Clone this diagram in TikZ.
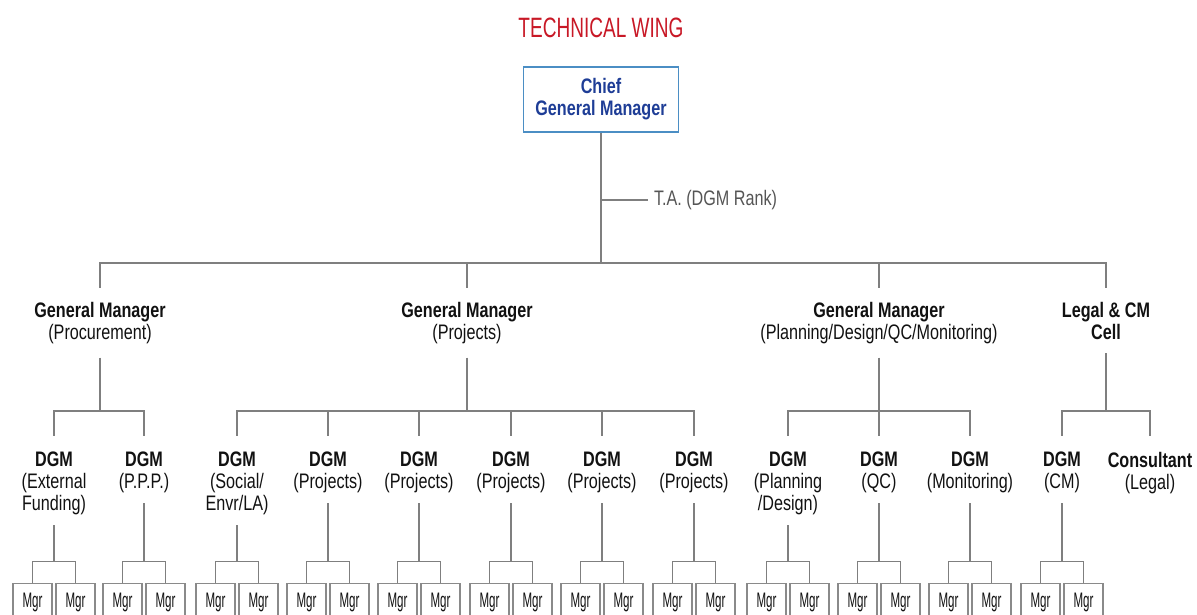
\documentclass[tikz,border=0pt]{standalone}
\usepackage{fontspec}
\setmainfont{Liberation Sans}[FakeStretch=0.77]
\newfontfamily\titlefont[FakeStretch=0.68]{Liberation Sans}
\newfontfamily\mgrfont[FakeStretch=0.55]{Liberation Sans}
\definecolor{linegray}{HTML}{7F7F7F}
\definecolor{boxgray}{HTML}{8A8A8A}
\definecolor{titlered}{HTML}{C81826}
\definecolor{cgmblue}{HTML}{1E3D96}
\definecolor{cgmborder}{HTML}{4B8EC4}
\definecolor{tagray}{HTML}{555555}
\definecolor{labelblack}{HTML}{111111}
\begin{document}
\begin{tikzpicture}[x=1pt,y=-1pt,
  conn/.style={draw=linegray, line width=1.5pt},
  lbl/.style={align=center, inner sep=0pt, outer ysep=14pt, anchor=north,
    text=labelblack, font=\fontsize{21}{22}\selectfont},
  dlbl/.style={align=center, inner sep=0pt, anchor=north,
    text=labelblack, font=\fontsize{21}{22}\selectfont},
  mgrbox/.style={draw=boxgray, line width=1.3pt, anchor=north, minimum width=39pt,
    minimum height=38pt, inner sep=0pt, text=labelblack, font=\mgrfont\fontsize{21}{22}\selectfont},
  cgmbox/.style={draw=cgmborder, line width=1.6pt, minimum width=155pt, minimum height=65pt,
    align=center, inner sep=0pt, text=cgmblue, font=\bfseries\fontsize{21}{22}\selectfont},
  titlestyle/.style={font=\titlefont\fontsize{28}{30}\selectfont, inner sep=0pt}]
\useasboundingbox (0,0) rectangle (1197,614);
\clip (0,0) rectangle (1197,614);

% title
\node[titlestyle, text=titlered] (title) at (601,28) {TECHNICAL WING};

% chief
\node[cgmbox] (cgm) at (601,99.5) {Chief\\General Manager};
\node[anchor=west, inner sep=0pt, outer xsep=6pt, text=tagray,
  font=\fontsize{21}{22}\selectfont] (ta) at (648,200) {T.A. (DGM Rank)};
\coordinate (j0) at (601,263);
\draw[conn] (cgm.south) -- (j0);
\draw[conn] (cgm.south |- ta.west) -- (ta.west);

% general managers
\node[lbl] (gm1) at (100,288) {\textbf{General Manager}\\(Procurement)};
\node[lbl] (gm2) at (467,288) {\textbf{General Manager}\\(Projects)};
\node[lbl] (gm3) at (879,288) {\textbf{General Manager}\\(Planning/Design/QC/Monitoring)};
\node[lbl] (gm4) at (1106,288) {\textbf{Legal \& CM}\\\textbf{Cell}};
\foreach \g in {gm1,gm2,gm3,gm4}{\draw[conn] (j0) -| (\g.north);}

% level 2 junctions
\coordinate (j1) at (100,411);
\coordinate (j2) at (467,411);
\coordinate (j3) at (879,411);
\coordinate (j4) at (1106,411);
\draw[conn] (gm1.south) -- (j1);
\draw[conn] (gm2.south) -- (j2);
\draw[conn] (gm3.south) -- (j3);
\draw[conn] (gm4.south) -- (j4);

% DGMs
\node[dlbl] (d1) at (54,452) {\textbf{DGM}\\(External\\Funding)};
\node[dlbl] (d2) at (144,452) {\textbf{DGM}\\(P.P.P.)};
\node[dlbl] (d3) at (237,452) {\textbf{DGM}\\(Social/\\Envr/LA)};
\node[dlbl] (d4) at (328,452) {\textbf{DGM}\\(Projects)};
\node[dlbl] (d5) at (419,452) {\textbf{DGM}\\(Projects)};
\node[dlbl] (d6) at (511,452) {\textbf{DGM}\\(Projects)};
\node[dlbl] (d7) at (602,452) {\textbf{DGM}\\(Projects)};
\node[dlbl] (d8) at (694,452) {\textbf{DGM}\\(Projects)};
\node[dlbl] (d9) at (788,452) {\textbf{DGM}\\(Planning\\/Design)};
\node[dlbl] (d10) at (879,452) {\textbf{DGM}\\(QC)};
\node[dlbl] (d11) at (970,452) {\textbf{DGM}\\(Monitoring)};
\node[dlbl] (d12) at (1062,452) {\textbf{DGM}\\(CM)};
\node[dlbl] (d13) at (1150,452) {\textbf{Consultant}\\(Legal)};

\foreach \d in {d1,d2}{\draw[conn] (j1) -| ([yshift=16pt]\d.north);}
\foreach \d in {d3,d4,d5,d6,d7,d8}{\draw[conn] (j2) -| ([yshift=16pt]\d.north);}
\foreach \d in {d9,d10,d11}{\draw[conn] (j3) -| ([yshift=16pt]\d.north);}
\foreach \d in {d12,d13}{\draw[conn] (j4) -| ([yshift=16pt]\d.north);}

% managers
\foreach \i/\c in {1/54,2/144,3/237,4/328,5/419,6/511,7/602,8/694,9/788,10/879,11/970,12/1062}{
  \coordinate (mj\i) at (\c,561.5);
  \node[mgrbox] (m\i a) at (\c-21.5,583) {Mgr};
  \node[mgrbox] (m\i b) at (\c+21.5,583) {Mgr};
  \draw[conn] ([yshift=-10pt]d\i.south) -- (mj\i);
  \draw[conn] (mj\i) -| (m\i a.north);
  \draw[conn] (mj\i) -| (m\i b.north);
}
\end{tikzpicture}
\end{document}
